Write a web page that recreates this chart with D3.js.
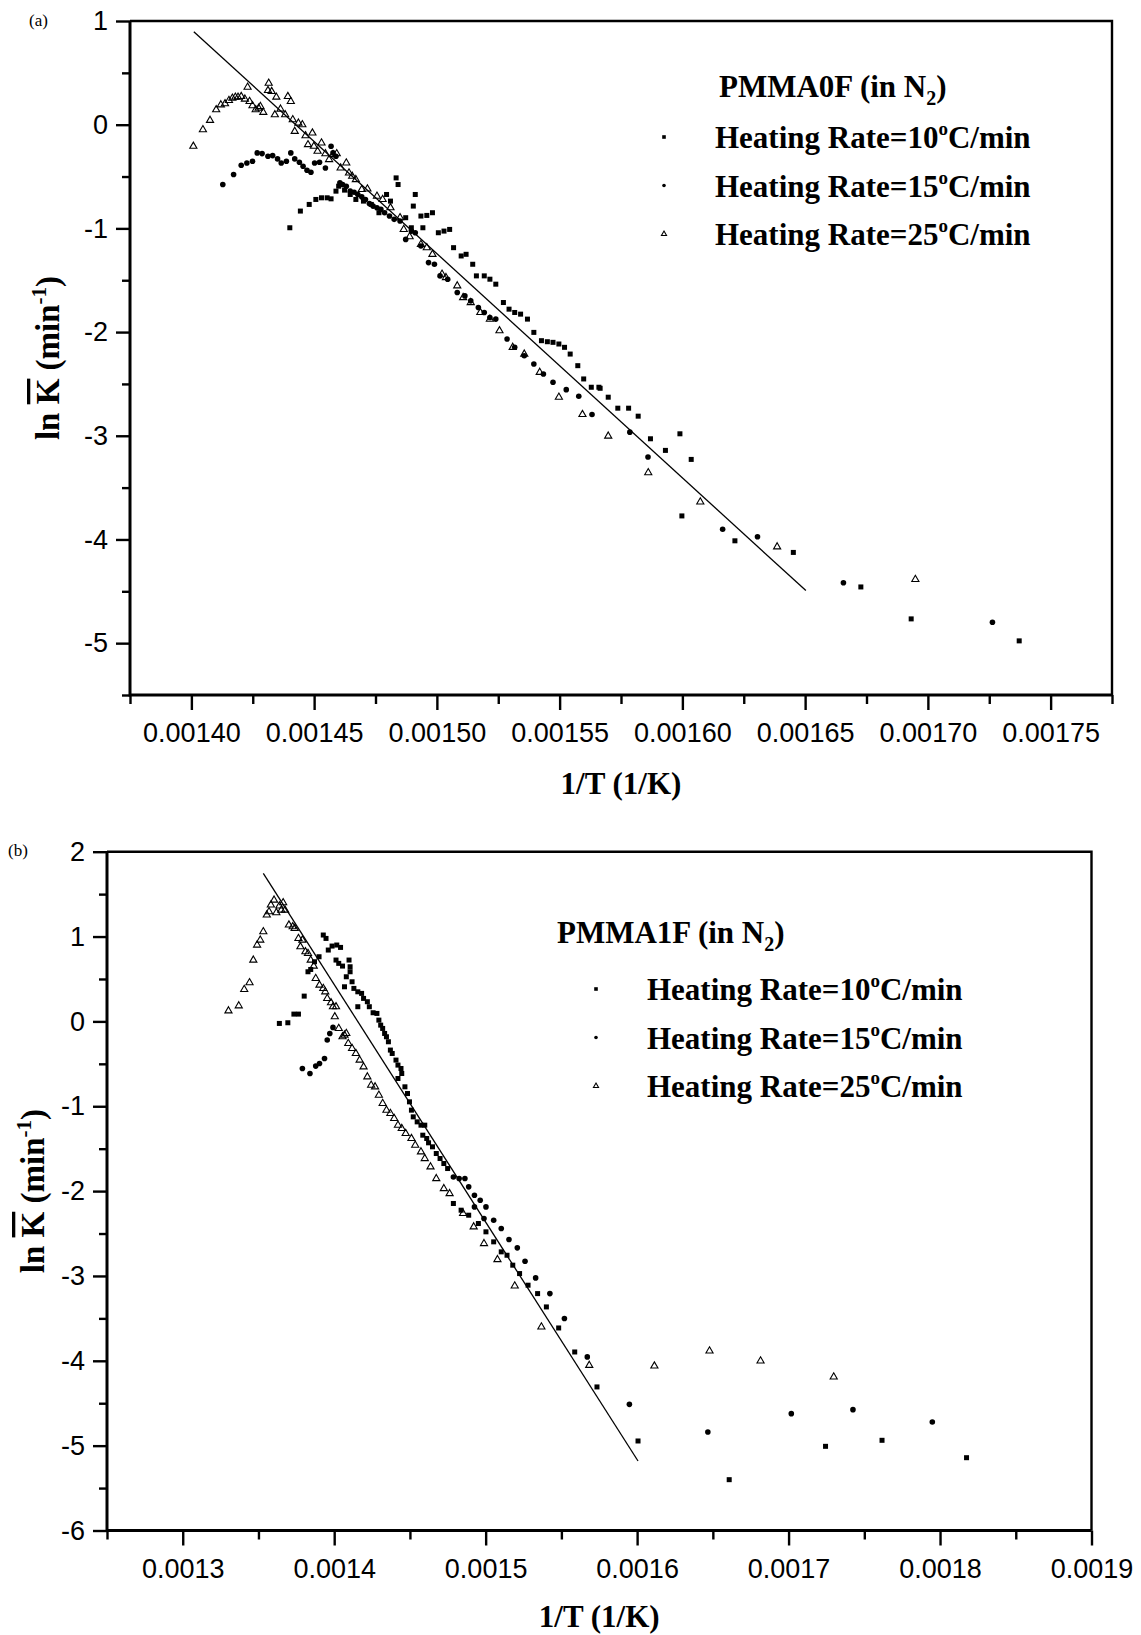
<!DOCTYPE html>
<html>
<head>
<meta charset="utf-8">
<script src="https://cdn.jsdelivr.net/npm/d3@7"></script>
<style>
  body { margin: 0; background: #fff; }
  .tick text { font-family: 'Liberation Sans', Arial, sans-serif; font-size: 27px; fill: #000; }
  .tick line { stroke: #000; stroke-width: 2.4px; }
  .lbl { font-family: 'Liberation Serif', 'Times New Roman', serif; font-weight: bold; fill: #000; }
</style>
</head>
<body>
<script>
(function (d3) {
  'use strict';

  // ---- panel (a): PMMA0F ----
  const aRate10 = [
    [0.0014401,-0.994],[0.0014444,-0.833],[0.0014480,-0.769],[0.0014507,-0.721],[0.0014530,-0.705],
    [0.0014553,-0.705],[0.0014569,-0.715],[0.0014589,-0.641],[0.0014600,-0.593],[0.0014624,-0.631],
    [0.0014647,-0.673],[0.0014670,-0.721],[0.0014701,-0.737],[0.0014733,-0.769],[0.0014764,-0.849],
    [0.0014795,-0.673],[0.0014811,-0.737],[0.0014834,-0.513],[0.0014842,-0.577],[0.0014873,-0.897],
    [0.0014896,-0.994],[0.0014912,-0.673],[0.0014904,-0.785],[0.0014935,-0.881],[0.0014959,-0.875],
    [0.0014982,-0.849],[0.0014943,-0.994],[0.0015006,-1.042],[0.0015029,-1.026],[0.0015052,-1.010],
    [0.0015068,-1.186],[0.0015099,-1.266],[0.0015119,-1.250],[0.0015146,-1.346],[0.0015161,-1.458],
    [0.0015193,-1.458],[0.0015216,-1.490],[0.0015240,-1.538],[0.0015271,-1.715],[0.0015294,-1.779],
    [0.0015317,-1.811],[0.0015341,-1.827],[0.0015369,-1.875],[0.0015395,-2.003],[0.0015426,-2.083],
    [0.0015450,-2.093],[0.0015473,-2.099],[0.0015497,-2.115],[0.0015520,-2.147],[0.0015543,-2.212],
    [0.0015574,-2.324],[0.0015598,-2.452],[0.0015629,-2.532],[0.0015660,-2.532],[0.0015665,-2.542],
    [0.0015698,-2.628],[0.0015737,-2.734],[0.0015781,-2.734],[0.0015820,-2.811],[0.0015870,-3.029],
    [0.0015931,-3.141],[0.0015990,-2.981],[0.0016036,-3.228],[0.0015998,-3.773],[0.0016214,-4.013],
    [0.0016452,-4.125],[0.0016727,-4.458],[0.0016932,-4.766],[0.0017372,-4.978]
  ];
  const aRate15 = [
    [0.0014128,-0.577],[0.0014172,-0.481],[0.0014203,-0.391],[0.0014226,-0.369],[0.0014249,-0.353],
    [0.0014268,-0.272],[0.0014288,-0.279],[0.0014312,-0.304],[0.0014331,-0.298],[0.0014351,-0.330],
    [0.0014366,-0.369],[0.0014387,-0.353],[0.0014405,-0.272],[0.0014421,-0.330],[0.0014440,-0.362],
    [0.0014455,-0.401],[0.0014471,-0.439],[0.0014487,-0.458],[0.0014502,-0.369],[0.0014522,-0.362],
    [0.0014546,-0.417],[0.0014569,-0.208],[0.0014577,-0.272],[0.0014589,-0.304],[0.0014605,-0.561],
    [0.0014616,-0.577],[0.0014631,-0.593],[0.0014647,-0.641],[0.0014663,-0.651],[0.0014678,-0.673],
    [0.0014694,-0.696],[0.0014709,-0.721],[0.0014725,-0.760],[0.0014740,-0.785],[0.0014756,-0.801],
    [0.0014772,-0.817],[0.0014787,-0.849],[0.0014807,-0.881],[0.0014826,-0.913],[0.0014850,-0.929],
    [0.0014873,-1.106],[0.0014896,-1.026],[0.0014912,-1.042],[0.0014935,-1.170],[0.0014966,-1.330],
    [0.0014990,-1.346],[0.0015013,-1.458],[0.0015044,-1.490],[0.0015083,-1.619],[0.0015114,-1.651],
    [0.0015138,-1.699],[0.0015169,-1.763],[0.0015193,-1.811],[0.0015216,-1.859],[0.0015240,-1.875],
    [0.0015286,-2.067],[0.0015317,-2.147],[0.0015356,-2.228],[0.0015395,-2.308],[0.0015434,-2.404],
    [0.0015473,-2.484],[0.0015527,-2.555],[0.0015578,-2.619],[0.0015632,-2.795],[0.0015786,-2.965],
    [0.0015860,-3.205],[0.0016164,-3.901],[0.0016306,-3.974],[0.0016656,-4.417],[0.0017263,-4.798]
  ];
  const aRate25 = [
    [0.0014008,-0.208],[0.0014047,-0.048],[0.0014076,0.042],[0.0014101,0.144],[0.0014120,0.192],
    [0.0014137,0.202],[0.0014153,0.234],[0.0014167,0.256],[0.0014179,0.266],[0.0014190,0.266],
    [0.0014203,0.272],[0.0014218,0.247],[0.0014229,0.362],[0.0014237,0.224],[0.0014249,0.183],
    [0.0014262,0.144],[0.0014274,0.160],[0.0014281,0.176],[0.0014293,0.119],[0.0014315,0.400],
    [0.0014312,0.330],[0.0014327,0.320],[0.0014346,0.266],[0.0014393,0.272],[0.0014405,0.224],
    [0.0014363,0.151],[0.0014382,0.096],[0.0014340,0.096],[0.0014413,0.048],[0.0014436,0.016],
    [0.0014421,-0.064],[0.0014452,0.000],[0.0014465,-0.106],[0.0014493,-0.080],[0.0014475,-0.192],
    [0.0014499,-0.208],[0.0014530,-0.176],[0.0014514,-0.256],[0.0014546,-0.279],[0.0014577,-0.288],
    [0.0014592,-0.279],[0.0014561,-0.336],[0.0014608,-0.417],[0.0014631,-0.369],[0.0014642,-0.465],
    [0.0014655,-0.497],[0.0014670,-0.529],[0.0014694,-0.625],[0.0014717,-0.619],[0.0014756,-0.689],
    [0.0014779,-0.721],[0.0014811,-0.801],[0.0014850,-0.897],[0.0014865,-1.010],[0.0014889,-1.080],
    [0.0014935,-1.154],[0.0014959,-1.186],[0.0014982,-1.250],[0.0015021,-1.442],[0.0015037,-1.474],
    [0.0015083,-1.554],[0.0015107,-1.667],[0.0015138,-1.715],[0.0015177,-1.811],[0.0015216,-1.875],
    [0.0015255,-1.987],[0.0015309,-2.147],[0.0015356,-2.212],[0.0015419,-2.388],[0.0015497,-2.628],
    [0.0015593,-2.795],[0.0015698,-3.003],[0.0015861,-3.356],[0.0016073,-3.638],[0.0016386,-4.071],
    [0.0016949,-4.385]
  ];
  const aFit = [[0.001401, 0.897], [0.0016503, -4.493]];
  const aXMajor = [0.00140, 0.00145, 0.00150, 0.00155, 0.00160, 0.00165, 0.00170, 0.00175];
  const aXMinor = [0.001375, 0.001425, 0.001475, 0.001525, 0.001575, 0.001625, 0.001675, 0.001725, 0.001775];
  const aYMajor = [1, 0, -1, -2, -3, -4, -5];
  const aYMinor = [0.5, -0.5, -1.5, -2.5, -3.5, -4.5, -5.5];

  // ---- panel (b): PMMA1F ----
  const bRate10 = [
    [0.0013638,-0.024],[0.0013694,-0.016],[0.0013734,0.086],[0.0013764,0.086],[0.0013802,0.298],
    [0.0013827,0.585],[0.0013845,0.612],[0.0013870,0.703],[0.0013900,0.762],[0.0013928,1.018],
    [0.0013946,0.978],[0.0013961,0.841],[0.0013986,0.888],[0.0014017,0.900],[0.0014042,0.872],
    [0.0014012,0.723],[0.0014030,0.684],[0.0014055,0.652],[0.0014098,0.723],[0.0014105,0.644],
    [0.0014080,0.526],[0.0014068,0.408],[0.0014105,0.585],[0.0014118,0.467],[0.0014130,0.389],
    [0.0014156,0.349],[0.0014181,0.330],[0.0014194,0.271],[0.0014156,0.173],[0.0014219,0.232],
    [0.0014232,0.173],[0.0014257,0.102],[0.0014282,0.094],[0.0014295,0.015],[0.0014307,-0.044],
    [0.0014320,-0.083],[0.0014333,-0.142],[0.0014345,-0.181],[0.0014358,-0.240],[0.0014371,-0.338],
    [0.0014383,-0.378],[0.0014408,-0.456],[0.0014421,-0.515],[0.0014441,-0.555],[0.0014446,-0.614],
    [0.0014421,-0.673],[0.0014467,-0.771],[0.0014484,-0.850],[0.0014497,-0.948],[0.0014510,-1.046],
    [0.0014522,-1.125],[0.0014548,-1.184],[0.0014573,-1.223],[0.0014598,-1.223],[0.0014585,-1.341],
    [0.0014611,-1.380],[0.0014623,-1.431],[0.0014649,-1.478],[0.0014674,-1.557],[0.0014699,-1.616],
    [0.0014724,-1.675],[0.0014749,-1.734],[0.0014787,-2.146],[0.0014838,-2.225],[0.0014888,-2.284],
    [0.0014952,-2.382],[0.0015002,-2.480],[0.0015053,-2.598],[0.0015103,-2.716],[0.0015141,-2.756],
    [0.0015179,-2.873],[0.0015224,-2.972],[0.0015280,-3.109],[0.0015343,-3.208],[0.0015401,-3.365],
    [0.0015482,-3.613],[0.0015588,-3.896],[0.0015735,-4.308],[0.0016006,-4.945],[0.0016608,-5.401],
    [0.0017244,-5.008],[0.0017617,-4.937],[0.0018175,-5.142]
  ];
  const bRate15 = [
    [0.0013790,-0.555],[0.0013840,-0.614],[0.0013878,-0.527],[0.0013903,-0.496],[0.0013936,-0.437],
    [0.0013954,-0.220],[0.0013971,-0.142],[0.0013992,-0.071],[0.0014787,-1.833],[0.0014825,-1.852],
    [0.0014863,-1.852],[0.0014888,-1.950],[0.0014926,-2.049],[0.0014926,-2.186],[0.0014964,-2.107],
    [0.0014989,-2.323],[0.0015002,-2.186],[0.0015053,-2.343],[0.0015103,-2.441],[0.0015154,-2.571],
    [0.0015209,-2.669],[0.0015260,-2.826],[0.0015330,-3.023],[0.0015424,-3.208],[0.0015520,-3.502],
    [0.0015671,-3.954],[0.0015949,-4.513],[0.0016467,-4.839],[0.0017018,-4.623],[0.0017425,-4.576],
    [0.0017949,-4.721]
  ];
  const bRate25 = [
    [0.0013302,0.125],[0.0013370,0.184],[0.0013406,0.377],[0.0013441,0.456],[0.0013466,0.723],
    [0.0013491,0.900],[0.0013512,0.959],[0.0013532,1.057],[0.0013555,1.254],[0.0013570,1.293],
    [0.0013582,1.372],[0.0013603,1.430],[0.0013618,1.281],[0.0013638,1.360],[0.0013651,1.312],
    [0.0013663,1.399],[0.0013676,1.312],[0.0013701,1.136],[0.0013726,1.116],[0.0013739,1.096],
    [0.0013764,0.978],[0.0013790,0.959],[0.0013777,0.880],[0.0013810,0.821],[0.0013827,0.801],
    [0.0013845,0.723],[0.0013865,0.652],[0.0013878,0.507],[0.0013903,0.428],[0.0013928,0.389],
    [0.0013941,0.349],[0.0013954,0.271],[0.0013979,0.220],[0.0013992,0.173],[0.0014012,0.173],
    [0.0014004,0.055],[0.0014030,-0.083],[0.0014055,-0.181],[0.0014068,-0.161],[0.0014080,-0.142],
    [0.0014093,-0.260],[0.0014118,-0.319],[0.0014143,-0.378],[0.0014168,-0.456],[0.0014194,-0.535],
    [0.0014219,-0.653],[0.0014244,-0.751],[0.0014270,-0.771],[0.0014295,-0.869],[0.0014320,-0.967],
    [0.0014345,-1.046],[0.0014371,-1.085],[0.0014396,-1.144],[0.0014421,-1.223],[0.0014446,-1.262],
    [0.0014472,-1.321],[0.0014510,-1.380],[0.0014535,-1.459],[0.0014573,-1.537],[0.0014598,-1.616],
    [0.0014636,-1.714],[0.0014674,-1.852],[0.0014724,-1.970],[0.0014762,-2.029],[0.0014851,-2.264],
    [0.0014921,-2.421],[0.0014989,-2.618],[0.0015078,-2.807],[0.0015192,-3.117],[0.0015368,-3.601],
    [0.0015684,-4.053],[0.0016114,-4.061],[0.0016478,-3.884],[0.0016815,-4.002],[0.0017298,-4.190]
  ];
  const bFit = [[0.0013532, 1.745], [0.0016006, -5.181]];
  const bXMajor = [0.0013, 0.0014, 0.0015, 0.0016, 0.0017, 0.0018, 0.0019];
  const bXMinor = [0.00125, 0.00135, 0.00145, 0.00155, 0.00165, 0.00175, 0.00185];
  const bYMajor = [2, 1, 0, -1, -2, -3, -4, -5, -6];
  const bYMinor = [1.5, 0.5, -0.5, -1.5, -2.5, -3.5, -4.5, -5.5];

  const rateLabels = ['10', '15', '25'];

  const svg = d3.select('body').append('svg')
    .attr('width', 1141)
    .attr('height', 1635);

  const serif = 'lbl';

  const drawMarks = (g, data, kind, x, y, s) => {
    if (kind === 'square') {
      g.selectAll(null).data(data).enter().append('rect')
        .attr('x', d => x(d[0]) - s / 2)
        .attr('y', d => y(d[1]) - s / 2)
        .attr('width', s).attr('height', s)
        .attr('fill', '#000');
    } else if (kind === 'circle') {
      g.selectAll(null).data(data).enter().append('circle')
        .attr('cx', d => x(d[0]))
        .attr('cy', d => y(d[1]))
        .attr('r', s / 2)
        .attr('fill', '#000');
    } else {
      const tri = d3.symbol(d3.symbolTriangle, s * s * 0.45);
      g.selectAll(null).data(data).enter().append('path')
        .attr('d', tri)
        .attr('transform', d => `translate(${x(d[0])},${y(d[1])})`)
        .attr('fill', 'none')
        .attr('stroke', '#000')
        .attr('stroke-width', 1.1);
    }
  };

  const drawPanel = p => {
    const x = d3.scaleLinear().domain(p.xDomain).range([p.left, p.right]);
    const y = d3.scaleLinear().domain(p.yDomain).range([p.bottom, p.top]);
    const g = svg.append('g');

    // ticks: minor first, then major with labels
    g.append('g').attr('transform', `translate(0,${p.bottom})`)
      .call(d3.axisBottom(x).tickValues(p.xMinor).tickSize(9).tickFormat(''))
      .call(a => a.select('.domain').remove());
    g.append('g').attr('transform', `translate(0,${p.bottom})`)
      .call(d3.axisBottom(x).tickValues(p.xMajor).tickSize(15).tickPadding(13).tickFormat(d3.format(p.xFmt)))
      .call(a => a.select('.domain').remove());
    g.append('g').attr('transform', `translate(${p.left},0)`)
      .call(d3.axisLeft(y).tickValues(p.yMinor).tickSize(8).tickFormat(''))
      .call(a => a.select('.domain').remove());
    g.append('g').attr('transform', `translate(${p.left},0)`)
      .call(d3.axisLeft(y).tickValues(p.yMajor).tickSize(14).tickPadding(8).tickFormat(d => String(d)))
      .call(a => a.select('.domain').remove());

    // frame: heavy left/bottom, lighter top/right
    g.append('path')
      .attr('d', `M${p.left},${p.top}H${p.right}V${p.bottom}`)
      .attr('fill', 'none').attr('stroke', '#000').attr('stroke-width', 2.4);
    g.append('path')
      .attr('d', `M${p.left},${p.top}V${p.bottom}H${p.right}`)
      .attr('fill', 'none').attr('stroke', '#000').attr('stroke-width', 3);

    // fitted line
    g.append('path')
      .attr('d', d3.line().x(d => x(d[0])).y(d => y(d[1]))(p.fit))
      .attr('stroke', '#000').attr('stroke-width', 1.3).attr('fill', 'none');

    drawMarks(g, p.series[2], 'triangle', x, y, 7);
    drawMarks(g, p.series[1], 'circle', x, y, 5.6);
    drawMarks(g, p.series[0], 'square', x, y, 5);

    // panel tag
    g.append('text')
      .attr('x', p.tag[1]).attr('y', p.tag[2])
      .attr('font-family', "'Liberation Serif', serif").attr('font-size', 17)
      .text(p.tag[0]);

    // axis titles
    g.append('text').attr('class', serif)
      .attr('x', (p.left + p.right) / 2).attr('y', p.xTitleY)
      .attr('text-anchor', 'middle').attr('font-size', 31)
      .text('1/T (1/K)');

    const yt = g.append('text').attr('class', serif)
      .attr('text-anchor', 'middle').attr('font-size', 33)
      .attr('transform', `translate(${p.yTitleX},${(p.top + p.bottom) / 2}) rotate(-90)`);
    yt.append('tspan').text('ln ');
    yt.append('tspan').style('text-decoration', 'overline').text('K');
    yt.append('tspan').text(' (min');
    yt.append('tspan').attr('dy', -13).attr('font-size', 21).text('-1');
    yt.append('tspan').attr('dy', 13).text(')');

    // legend
    const lg = g.append('g');
    const title = lg.append('text').attr('class', serif)
      .attr('x', p.legend.titleX).attr('y', p.legend.titleY).attr('font-size', 31);
    title.append('tspan').text(p.name + ' (in N');
    title.append('tspan').attr('dy', 8).attr('font-size', 20).text('2');
    title.append('tspan').attr('dy', -8).text(')');

    const kinds = ['square', 'circle', 'triangle'];
    rateLabels.forEach((r, i) => {
      const by = p.legend.rowY + i * p.legend.rowGap;
      const t = lg.append('text').attr('class', serif)
        .attr('x', p.legend.textX).attr('y', by).attr('font-size', 31);
      t.append('tspan').text('Heating Rate=' + r);
      t.append('tspan').attr('dy', -13).attr('font-size', 19).text('o');
      t.append('tspan').attr('dy', 13).text('C/min');
      const sym = lg.append('g');
      drawMarks(sym, [[0, 0]], kinds[i],
        () => p.legend.symX, () => by - 11, i === 2 ? 5 : 3.6);
    });
  };

  drawPanel({
    name: 'PMMA0F', tag: ['(a)', 29, 26],
    xDomain: [0.001375, 0.001775], yDomain: [-5.5, 1],
    left: 130, right: 1112, top: 21, bottom: 695,
    xMajor: aXMajor, xMinor: aXMinor, yMajor: aYMajor, yMinor: aYMinor, xFmt: '.5f',
    series: [aRate10, aRate15, aRate25], fit: aFit,
    xTitleY: 794, yTitleX: 59,
    legend: { titleX: 719, titleY: 97, textX: 715, rowY: 148, rowGap: 48.5, symX: 664 }
  });

  drawPanel({
    name: 'PMMA1F', tag: ['(b)', 8, 856],
    xDomain: [0.00125, 0.0019], yDomain: [-6, 2],
    left: 107, right: 1091.5, top: 851.7, bottom: 1530.5,
    xMajor: bXMajor, xMinor: bXMinor, yMajor: bYMajor, yMinor: bYMinor, xFmt: '.4f',
    series: [bRate10, bRate15, bRate25], fit: bFit,
    xTitleY: 1627, yTitleX: 44,
    legend: { titleX: 557, titleY: 943, textX: 647, rowY: 1000, rowGap: 48.5, symX: 596 }
  });

}(d3));
</script>
</body>
</html>
